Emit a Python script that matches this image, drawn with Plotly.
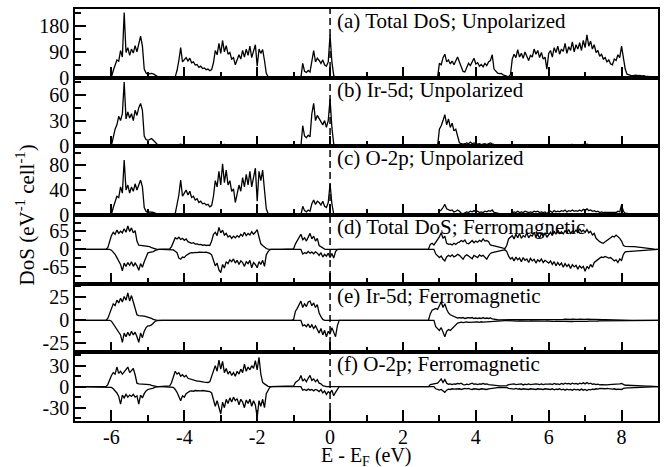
import plotly.graph_objects as go
from plotly.subplots import make_subplots
import numpy as np

# Energy grid: -7 .. 9 eV, 0.05 eV step (rows below = one eV each, 20 values)
E_START = -7.0
E_STEP = 0.05

TOTAL_UNPOL = [
    [0,0,0,0,0,0,0,0,0,0, 0,0,0,0,0,0,0,0,0,0],
    [2,25,45,62,58,95,72,228,88,105, 78,100,86,112,90,118,145,110,30,16],
    [12,14,15,13,9,4,1,0,0,0, 0,0,0,0,1,3,25,60,105,55],
    [62,70,58,68,52,55,44,46,36,40, 32,34,28,30,24,28,52,95,80,120],
    [85,130,90,112,82,88,65,70,45,62, 80,65,95,72,100,78,110,70,92,115],
    [40,100,85,98,60,15,3,0,0,0, 0,0,0,0,0,0,0,0,0,0],
    [0,0,0,0,0,50,22,18,25,20, 65,95,55,68,60,50,62,45,40,55],
    [150,55,8,0,0,0,0,0,0,0, 0,0,0,0,0,0,0,0,0,0],
    [0,0,0,0,0,0,0,0,0,0, 0,0,0,0,0,0,0,0,0,0],
    [0,0,0,0,0,0,0,0,0,0, 0,0,0,0,0,0,0,0,0,0],
    [50,45,70,82,55,62,48,58,45,60, 72,55,35,22,20,38,50,42,55,68],
    [48,52,40,46,38,50,42,55,60,80, 30,22,16,14,15,10,8,5,3,10],
    [65,82,70,98,72,85,68,90,75,60, 78,72,100,82,95,70,88,65,72,30],
    [85,95,72,105,88,110,82,100,92,120, 85,108,95,125,90,115,100,122,95,130],
    [105,150,110,128,100,115,88,95,75,82, 65,70,55,62,48,45,65,60,80,70],
    [110,70,30,12,9,8,7,8,9,7, 8,6,7,5,5,4,3,3,2,1],
    [0],
]

IR_UNPOL = [
    [0,0,0,0,0,0,0,0,0,0, 0,0,0,0,0,0,0,0,0,0],
    [1,10,20,25,35,30,38,75,32,40, 33,38,30,42,36,45,50,42,12,8],
    [7,8,9,7,5,2,0.5,0,0,0, 0,0,0,0,0,0.5,1.5,2,2.5,1.5],
    [1.5,1,1.2,0.8,1,0.8,0.7,0.6,0.5,0.6, 0.5,0.5,0.4,0.5,0.6,0.8,1.5,2,1.5,2],
    [2,1.8,2.2,1.5,1.8,1.6,1.2,1.5,1,1.3, 1.5,1.2,1.6,1.4,1.8,1.5,2,1.6,1.8,2],
    [1.5,2,1.8,2,1.2,0.4,0,0,0,0, 0,0,0,0,0,0,0,0,0,0],
    [0,0,0,0,0,24,12,10,13,11, 38,50,30,36,32,28,25,30,22,30],
    [55,22,3,0,0,0,0,0,0,0, 0,0,0,0,0,0,0,0,0,0],
    [0,0,0,0,0,0,0,0,0,0, 0,0,0,0,0,0,0,0,0,0],
    [0,0,0,0,0,0,0,0,0,0, 0,0,0,0,0,0,0,0,0,0],
    [20,24,30,37,25,32,22,27,18,20, 12,4,3,2.5,3,4,3,5,3,4],
    [3,2.5,3,2,2.5,3,2,3.5,4,3, 2,1.5,1,1,0.8,0.6,0.5,0.4,0.3,1],
    [1.2,1.5,1.3,1.6,1.2,1.4,1.3,1.5,1.2,1, 1.3,1.2,1.5,1.3,1.6,1.2,1.4,1.1,1.2,0.8],
    [1.4,1.6,1.3,1.8,1.5,1.9,1.4,1.7,1.6,2, 1.5,1.8,1.6,2.1,1.5,1.9,1.7,2,1.6,2.2],
    [1.8,2.4,1.9,2.1,1.7,1.9,1.5,1.6,1.3,1.4, 1.1,1.2,1,1.1,0.9,0.8,1.1,1,1.4,1.2],
    [1.8,1.2,0.5,0.2,0,0,0,0,0,0, 0,0,0,0,0,0,0,0,0,0],
    [0],
]

O_UNPOL = [
    [0,0,0,0,0,0,0,0,0,0, 0,0,0,0,0,0,0,0,0,0],
    [1,12,20,30,28,45,35,88,40,48, 35,45,38,50,40,48,56,45,12,6],
    [4,5,5,4,3,1.5,0.5,0,0,0, 0,0,0,0,0,2,15,32,56,30],
    [35,40,32,38,28,30,24,26,20,22, 18,19,16,17,13,15,30,55,45,70],
    [48,82,52,72,48,55,38,42,20,35, 48,38,60,45,65,48,70,45,60,75],
    [22,70,55,72,40,10,2,0,0,0, 0,0,0,0,0,0,0,0,0,0],
    [0,0,0,0,0,14,7,5,8,6, 18,24,17,22,20,16,22,14,12,20],
    [50,18,2,0,0,0,0,0,0,0, 0,0,0,0,0,0,0,0,0,0],
    [0,0,0,0,0,0,0,0,0,0, 0,0,0,0,0,0,0,0,0,0],
    [0,0,0,0,0,0,0,0,0,0, 0,0,0,0,0,0,0,0,0,0],
    [6,8,12,17,10,9,7,8,5,6, 8,6,3,2,3,5,4,6,5,7],
    [5,6,4,5,4,6,5,7,6,8, 4,3,2,2,2,1.5,1.2,1,0.8,2],
    [4,5,4,6,4,5,4,6,5,4, 5,4,6,5,6,4,5,4,5,2],
    [5,6,4,7,5,6,5,7,6,8, 5,7,6,8,6,7,6,8,6,9],
    [7,10,7,8,6,7,5,6,4,5, 4,4,3,4,3,3,4,4,6,5],
    [16,6,3,2,2,1.8,1.6,1.8,1.5,1.4, 1.3,1.2,1,0.8,0.6,0.5,0.3,0.2,0.1,0],
    [0],
]

TOTAL_FM_UP = [
    [0,0,0,0,0,0,0,0,0,0, 0,0,0,0,0,0,0,0,6,28],
    [50,62,55,70,58,66,60,75,62,85, 65,78,60,68,30,15,14,14,13,13],
    [12,10,6,3,1,0,0,0,0,0, 0,0,2,10,30,42,38,44,36,40],
    [33,38,28,25,22,24,19,20,17,18, 15,16,14,15,14,30,55,62,50,80],
    [60,70,52,58,45,50,40,48,42,50, 44,55,48,62,50,58,52,64,55,62],
    [72,45,20,14,8,3,0.5,0,0,0, 0,0,0,0,0,0,0,0,0,0],
    [2,20,32,40,55,35,42,30,45,58, 38,48,30,40,14,10,4,1,0,0],
    [0,0,0,0,0,0,0,0,0,0, 0,0,0,0,0,0,0,0,0,0],
    [0,0,0,0,0,0,0,0,0,0, 0,0,0,0,0,0,0,0,0,0],
    [0,0,0,0,0,0,0,0,0,0, 0,0,0,0,0,18,22,16,25,38],
    [45,60,40,48,22,18,20,16,22,18, 24,26,32,28,34,22,20,26,32,24],
    [30,26,33,28,38,30,32,28,16,14, 12,10,9,7,6,4,3,15,38,45],
    [50,38,55,42,58,40,50,45,60,42, 52,48,62,45,55,40,58,48,60,44],
    [55,62,50,66,55,70,58,64,56,68, 60,72,58,66,62,70,60,75,64,70],
    [62,72,60,66,52,58,40,32,28,24, 22,28,32,38,42,48,45,52,46,40],
    [30,14,11,10,10,10,9.5,9.5,9,8.5, 8,7.5,7,6,5,4,3,2,1,0.5],
    [0],
]

TOTAL_FM_DN = [
    [0,0,0,0,0,0,0,0,0,0, 0,0,0,0,0,0,0,0,0,0],
    [-3,-10,-18,-30,-45,-55,-78,-50,-62,-48, -58,-45,-62,-50,-60,-76,-52,-65,-45,-25],
    [-13,-11,-10,-8,-4,-1,0,0,0,0, 0,0,0,0,-2,-7,-12,-32,-36,-28],
    [-30,-22,-17,-14,-12,-13,-11,-12,-10,-11, -10,-11,-10,-12,-15,-20,-45,-60,-50,-75],
    [-85,-55,-68,-45,-52,-38,-45,-35,-50,-40, -55,-42,-48,-62,-45,-52,-40,-67,-48,-55],
    [-67,-45,-55,-40,-62,-20,-8,-1,0,0, 0,0,0,0,0,0,0,0,0,0],
    [0,0,0,0,0,-17,-12,-15,-8,-14, -10,-16,-9,-14,-22,-12,-28,-18,-25,-14],
    [-30,-15,-32,-8,-1,0,0,0,0,0, 0,0,0,0,0,0,0,0,0,0],
    [0,0,0,0,0,0,0,0,0,0, 0,0,0,0,0,0,0,0,0,0],
    [0,0,0,0,0,0,0,0,0,0, 0,0,0,0,0,0,0,0,-17,-25],
    [-30,-24,-36,-42,-28,-22,-26,-20,-28,-24, -18,-22,-30,-36,-25,-20,-24,-28,-34,-22],
    [-26,-30,-20,-25,-22,-28,-36,-24,-15,-12, -10,-8,-6,-5,-4,-2.5,-1.5,-8,-25,-35],
    [-30,-42,-28,-38,-32,-45,-30,-40,-35,-48, -33,-42,-36,-50,-38,-44,-35,-48,-40,-45],
    [-50,-42,-55,-45,-60,-48,-58,-50,-65,-52, -62,-55,-70,-56,-64,-58,-72,-60,-68,-62],
    [-80,-62,-70,-55,-65,-48,-42,-35,-32,-28, -30,-26,-28,-32,-30,-36,-42,-38,-48,-35],
    [-40,-18,-9,-8.5,-8,-8,-7.5,-7,-7,-6.5, -6,-5.5,-5,-4.5,-4,-3,-2.5,-1.5,-1,-0.5],
    [0],
]

IR_FM_UP = [
    [0,0,0,0,0,0,0,0,0,0, 0,0,0,0,0,0,0,0,2,8],
    [13,18,16,22,19,24,20,26,22,30, 21,27,20,12,6,5,5,4.5,4.5,4],
    [3.5,3,2,1,0.3,0,0,0,0,0, 0,0,0,0,0,0,0.4,0.5,0.6,0.4],
    [0.5,0.4,0.5,0.3,0.4,0.3,0.3,0.2,0.3,0.2, 0.2,0.2,0.2,0.2,0.3,0.4,0.6,0.5,0.7,0.6],
    [0.7,0.6,0.8,0.5,0.6,0.5,0.4,0.5,0.4,0.5, 0.5,0.4,0.6,0.5,0.6,0.5,0.7,0.5,0.6,0.7],
    [0.5,0.6,0.4,0.3,0.2,0.1,0,0,0,0, 0,0,0,0,0,0,0,0,0,0],
    [1,10,13,18,21,14,18,15,20,21, 16,19,14,17,8,4,1,0,0,0],
    [0,0,0,0,0,0,0,0,0,0, 0,0,0,0,0,0,0,0,0,0],
    [0,0,0,0,0,0,0,0,0,0, 0,0,0,0,0,0,0,0,0,0],
    [0,0,0,0,0,0,0,0,0,0, 0,0,0,0,0,7,11,12,13,12],
    [16,20,14,18,12,8,6,5,4,3, 2.5,3,2.5,3,2,2.5,3,2.5,3,2],
    [2.5,2,2.5,2,3,2,2.5,2,2.5,1.5, 1,0.8,0.6,0.5,0.5,0.4,0.4,0.5,0.7,0.8],
    [0.8,0.9,0.7,0.9,0.8,1,0.8,0.9,0.8,1, 0.9,0.8,1,0.9,1.1,0.8,1,0.9,1,0.8],
    [1,1.1,0.9,1.2,1,1.1,1,1.2,1.1,1.3, 1,1.2,1.1,1.3,1,1.2,1.1,1.3,1,1.2],
    [1.1,1.3,1,1.1,0.9,1,0.8,0.9,0.7,0.8, 0.6,0.7,0.6,0.6,0.5,0.5,0.4,0.4,0.3,0.3],
    [0.3,0.2,0.1,0,0,0,0,0,0,0, 0,0,0,0,0,0,0,0,0,0],
    [0],
]

IR_FM_DN = [
    [0,0,0,0,0,0,0,0,0,0, 0,0,0,0,0,0,0,0,0,0],
    [-1,-4,-6,-10,-13,-16,-24,-14,-18,-13, -17,-12,-16,-13,-18,-24,-14,-19,-12,-8],
    [-6,-6,-5,-3,-1,-0.3,0,0,0,0, 0,0,0,0,0,0,-0.3,-0.5,-0.6,-0.5],
    [-0.5,-0.4,-0.4,-0.3,-0.3,-0.3,-0.2,-0.2,-0.2,-0.2, -0.2,-0.2,-0.2,-0.2,-0.3,-0.3,-0.5,-0.6,-0.5,-0.7],
    [-0.7,-0.6,-0.7,-0.5,-0.6,-0.5,-0.5,-0.4,-0.5,-0.4, -0.5,-0.4,-0.5,-0.6,-0.5,-0.6,-0.5,-0.7,-0.6,-0.6],
    [-0.7,-0.5,-0.6,-0.4,-0.5,-0.2,-0.1,0,0,0, 0,0,0,0,0,0,0,0,0,0],
    [0,0,0,0,0,-6,-5,-7,-4,-8, -5,-9,-6,-10,-14,-9,-16,-11,-18,-12],
    [-15,-8,-14,-18,-6,0,0,0,0,0, 0,0,0,0,0,0,0,0,0,0],
    [0,0,0,0,0,0,0,0,0,0, 0,0,0,0,0,0,0,0,0,0],
    [0,0,0,0,0,0,0,0,0,0, 0,0,0,0,0,0,0,0,-7,-9],
    [-11,-8,-13,-18,-12,-10,-11,-9,-6,-4, -3,-2.5,-2,-2.5,-2,-1.8,-2.2,-2,-2.4,-1.8],
    [-2,-1.8,-2.2,-1.6,-2,-1.8,-2,-1.6,-1.8,-1.2, -0.9,-0.7,-0.5,-0.5,-0.4,-0.4,-0.3,-0.4,-0.6,-0.7],
    [-0.7,-0.8,-0.7,-0.9,-0.7,-0.9,-0.8,-0.9,-0.8,-1, -0.8,-0.9,-1,-0.8,-1,-0.9,-1,-0.8,-1,-0.8],
    [-1,-1.1,-1,-1.2,-1,-1.1,-1.1,-1.2,-1,-1.3, -1.1,-1.2,-1,-1.3,-1.1,-1.2,-1,-1.3,-1.1,-1.2],
    [-1.1,-1.2,-1,-1.1,-0.9,-1,-0.8,-0.8,-0.7,-0.7, -0.6,-0.6,-0.5,-0.5,-0.5,-0.4,-0.4,-0.4,-0.3,-0.3],
    [-0.3,-0.2,-0.1,0,0,0,0,0,0,0, 0,0,0,0,0,0,0,0,0,0],
    [0],
]

O_FM_UP = [
    [0,0,0,0,0,0,0,0,0,0, 0,0,0,0,0,0,0,0,3,10],
    [16,20,18,28,19,22,18,21,24,28, 20,23,26,17,5,4,4,4,4,4],
    [3.5,3,2,1,0.3,0,0,0,0,0, 0,0,1,6,15,22,18,20,15,17],
    [14,16,12,11,10,10,9,8,8,7, 7,6.5,6,6,7,14,24,30,22,38],
    [25,36,20,26,18,22,16,20,15,22, 18,25,20,32,22,28,24,30,26,37],
    [24,42,18,6,4,2,0.5,0,0,0, 0,0,0,0,0,0,0,0,0,0],
    [1,6,8,10,16,8,11,7,12,16, 9,11,7,10,5,4,1.5,0.5,0,0],
    [0,0,0,0,0,0,0,0,0,0, 0,0,0,0,0,0,0,0,0,0],
    [0,0,0,0,0,0,0,0,0,0, 0,0,0,0,0,0,0,0,0,0],
    [0,0,0,0,0,0,0,0,0,0, 0,0,0,0,0,3,3.5,3,4,5],
    [8,11,6,10,5,3.5,4,3,4,3.5, 4.5,4,5,3,2.5,3.5,3,4,5,3.5],
    [4,3,4,3.5,4.5,3.5,4,3,2.5,2, 1.8,1.5,1.5,1.2,1.2,1,1,1.5,3,3.5],
    [3,4,3,3.5,3,4,2.5,3.5,3,4, 3,3.5,3,4,3.5,3,4,3,3.5,3],
    [3.5,4,3,4.5,3.5,4,3,4.5,3.5,5, 4,4.5,3.5,5,4,4.5,3.5,5,4,5.5],
    [4,6,4,5,3.5,4,3,3.5,2.5,3, 2.5,3,2.5,3,3,3.5,3,4,3.5,4],
    [4.5,3,2,2,1.8,1.8,1.6,1.6,1.5,1.4, 1.3,1.2,1.1,1,0.8,0.7,0.5,0.4,0.2,0.1],
    [0],
]

O_FM_DN = [
    [0,0,0,0,0,0,0,0,0,0, 0,0,0,0,0,0,0,0,0,0],
    [-1,-3,-6,-9,-14,-25,-12,-16,-11,-15, -12,-14,-11,-15,-13,-25,-12,-16,-10,-6],
    [-4,-3.5,-3,-2,-0.8,0,0,0,0,0, 0,0,0,0,-1,-4,-8,-14,-20,-13],
    [-15,-10,-8,-6.5,-6,-6.5,-5.5,-6,-5.5,-6, -5.5,-6,-5.5,-6,-7,-9,-18,-28,-20,-32],
    [-39,-22,-30,-18,-24,-16,-22,-15,-20,-17, -26,-18,-22,-30,-19,-24,-18,-28,-20,-26],
    [-44,-20,-28,-18,-30,-10,-4,-0.5,0,0, 0,0,0,0,0,0,0,0,0,0],
    [0,0,0,0,0,-5,-4,-5.5,-3.5,-5, -4,-6,-4,-5,-7,-4,-9,-6,-11,-7],
    [-9,-5,-13,-8,-3,0,0,0,0,0, 0,0,0,0,0,0,0,0,0,0],
    [0,0,0,0,0,0,0,0,0,0, 0,0,0,0,0,0,0,0,0,0],
    [0,0,0,0,0,0,0,0,0,0, 0,0,0,0,0,0,0,0,-3,-4],
    [-5,-4,-6,-8,-5,-3.5,-4,-3,-3.5,-3, -2.5,-3,-4,-3,-2.5,-3,-2.5,-3.5,-4,-3],
    [-3.5,-3,-4,-3,-3.5,-3,-4,-3,-2.5,-2, -1.8,-1.5,-1.3,-1.2,-1,-1,-0.8,-1.2,-2.5,-3],
    [-3,-3.5,-2.5,-3.5,-3,-4,-3,-3.5,-3,-4, -3,-3.5,-3,-4,-3,-3.5,-3,-4,-3,-3.5],
    [-3.5,-4,-3,-4.5,-3.5,-4,-3,-4.5,-3.5,-5, -3.5,-4.5,-4,-5,-3.5,-4.5,-4,-5,-3.5,-5],
    [-4,-5.5,-4,-4.5,-3.5,-4,-3,-3.5,-2.5,-3, -2.5,-3,-2.5,-3,-3,-3.5,-3,-4,-3.5,-4],
    [-4,-2.5,-1.8,-1.7,-1.6,-1.5,-1.5,-1.4,-1.3,-1.2, -1.1,-1,-0.9,-0.8,-0.7,-0.6,-0.5,-0.3,-0.2,-0.1],
    [0],
]

PANEL_LABELS = ["(a) Total DoS; Unpolarized", "(b) Ir-5d; Unpolarized",
                "(c) O-2p; Unpolarized", "(d) Total DoS; Ferromagnetic",
                "(e) Ir-5d; Ferromagnetic", "(f) O-2p; Ferromagnetic"]
Y_RANGES = [[0, 240], [0, 80], [0, 110], [-125, 125], [-35, 40], [-49, 49]]
Y_TICKS = [[0, 90, 180], [0, 30, 60], [0, 40, 80], [-65, 0, 65], [-25, 0, 25], [-30, 0, 30]]
Y_MINOR = [45, 15, 20, 32.5, 12.5, 15]
X_TICKS = [-6, -4, -2, 0, 2, 4, 6, 8]


def flatten(name, rows):
    out = []
    for k, r in enumerate(rows[:-1]):
        if len(r) != 20:
            raise ValueError(f"{name} row {k} has {len(r)} values")
        out.extend(r)
    out.extend(rows[-1])
    return np.array(out, dtype=float)


series = {n: flatten(n, v) for n, v in [
    ("TOTAL_UNPOL", TOTAL_UNPOL), ("IR_UNPOL", IR_UNPOL), ("O_UNPOL", O_UNPOL),
    ("TOTAL_FM_UP", TOTAL_FM_UP), ("TOTAL_FM_DN", TOTAL_FM_DN),
    ("IR_FM_UP", IR_FM_UP), ("IR_FM_DN", IR_FM_DN),
    ("O_FM_UP", O_FM_UP), ("O_FM_DN", O_FM_DN)]}
energy = np.round(E_START + E_STEP * np.arange(len(series["TOTAL_UNPOL"])), 2)

panel_series = [["TOTAL_UNPOL"], ["IR_UNPOL"], ["O_UNPOL"],
                ["TOTAL_FM_UP", "TOTAL_FM_DN"], ["IR_FM_UP", "IR_FM_DN"],
                ["O_FM_UP", "O_FM_DN"]]

FONT = "Liberation Serif, Times New Roman, Times, serif"
fig = make_subplots(rows=6, cols=1, shared_xaxes=True, vertical_spacing=0)

for i, names in enumerate(panel_series, start=1):
    for n in names:
        fig.add_trace(go.Scatter(x=energy, y=series[n], mode="lines",
                                 line=dict(color="black", width=1.3),
                                 showlegend=False, hoverinfo="skip"),
                      row=i, col=1)
    tv = Y_TICKS[i - 1]
    fig.update_yaxes(row=i, col=1, range=Y_RANGES[i - 1],
                     tickmode="array", tickvals=tv,
                     ticktext=[str(v) for v in tv],
                     ticks="inside", ticklen=11, tickwidth=1.5, tickcolor="black",
                     minor=dict(dtick=Y_MINOR[i - 1], tick0=0, ticks="inside",
                                ticklen=6, tickwidth=1.5, tickcolor="black"),
                     showline=True, linecolor="black", linewidth=1.5, mirror=True,
                     zeroline=False, showgrid=False,
                     tickfont=dict(family=FONT, size=20, color="black"))
    fig.update_xaxes(row=i, col=1, range=[-7, 9], tickmode="array", tickvals=X_TICKS,
                     ticktext=[str(v) for v in X_TICKS],
                     ticks="inside", ticklen=11, tickwidth=1.5, tickcolor="black",
                     minor=dict(dtick=1, tick0=0, ticks="inside", ticklen=6,
                                tickwidth=1.5, tickcolor="black"),
                     showline=True, linecolor="black", linewidth=1.5, mirror=True,
                     zeroline=False, showgrid=False, showticklabels=(i == 6),
                     ticklabelstandoff=-3,
                     tickfont=dict(family=FONT, size=20, color="black"))
    yref = "y domain" if i == 1 else f"y{i} domain"
    fig.add_annotation(text=PANEL_LABELS[i - 1], xref="paper", x=0.446, xanchor="left",
                       yref=yref, y=1, yanchor="top", yshift=2, showarrow=False,
                       font=dict(family=FONT, size=21, color="black"))

fig.add_shape(type="line", xref="x", yref="paper", x0=0, x1=0, y0=0, y1=1,
              line=dict(color="black", width=1.5, dash="7px,4px"))

fig.add_annotation(text="DoS (eV<sup>-1</sup> cell<sup>-1</sup>)", textangle=-90,
                   xref="paper", x=-0.085, xanchor="center", yref="paper", y=0.5,
                   yanchor="middle", showarrow=False,
                   font=dict(family=FONT, size=21, color="black"))
fig.add_annotation(text="E - E<sub>F</sub> (eV)", xref="paper", x=0.5, xanchor="center",
                   yref="paper", y=-0.086, yanchor="middle", showarrow=False,
                   font=dict(family=FONT, size=20, color="black"))

fig.update_layout(width=668, height=467, margin=dict(l=75, r=8, t=9, b=46),
                  paper_bgcolor="white", plot_bgcolor="white", showlegend=False)

fig.write_html("out.html")
